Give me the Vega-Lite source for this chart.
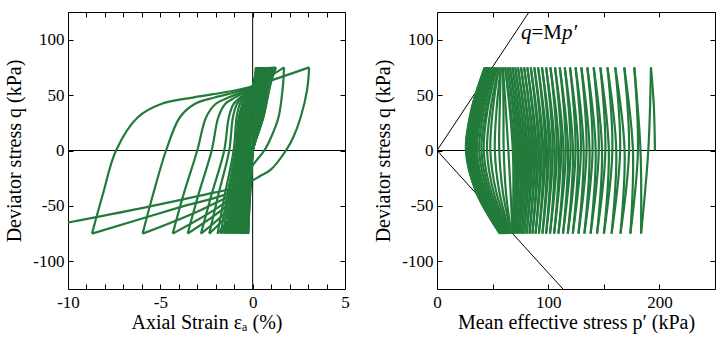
{
"$schema": "https://vega.github.io/schema/vega-lite/v6.json",
"padding": {"left": 4, "top": 8, "right": 6, "bottom": 2},
"spacing": 92,
"bounds": "flush",
"config": {
  "font": "Liberation Serif",
  "view": {"stroke": "black", "strokeWidth": 1},
  "axis": {"grid": false, "domain": false, "tickColor": "black", "tickSize": -5, "tickWidth": 1, "labelFont": "Liberation Serif", "labelFontSize": 17, "labelColor": "black", "titleFont": "Liberation Serif", "titleFontSize": 20, "titleFontWeight": "normal", "titleColor": "black"}
},
"datasets": {
"strain": [
{"s":0,"o":0,"e":0,"q":0},{"s":0,"o":1,"e":0.03,"q":30},{"s":0,"o":2,"e":0.08,"q":55},{"s":0,"o":3,"e":0.18,"q":75},
{"s":1,"o":0,"e":0.18,"q":75},{"s":1,"o":1,"e":0.14,"q":60},{"s":1,"o":2,"e":0.08,"q":30},{"s":1,"o":3,"e":0,"q":0},{"s":1,"o":4,"e":-0.1,"q":-30},{"s":1,"o":5,"e":-0.17,"q":-50},{"s":1,"o":6,"e":-0.24,"q":-75},
{"s":2,"o":0,"e":-0.24,"q":-75},{"s":2,"o":1,"e":-0.19,"q":-40},{"s":2,"o":2,"e":-0.13,"q":0},{"s":2,"o":3,"e":-0.08,"q":30},{"s":2,"o":4,"e":0,"q":55},{"s":2,"o":5,"e":0.22,"q":75},
{"s":3,"o":0,"e":0.22,"q":75},{"s":3,"o":1,"e":0.17,"q":60},{"s":3,"o":2,"e":0.10,"q":30},{"s":3,"o":3,"e":0,"q":0},{"s":3,"o":4,"e":-0.11,"q":-30},{"s":3,"o":5,"e":-0.18,"q":-50},{"s":3,"o":6,"e":-0.26,"q":-75},
{"s":4,"o":0,"e":-0.26,"q":-75},{"s":4,"o":1,"e":-0.21,"q":-40},{"s":4,"o":2,"e":-0.14,"q":0},{"s":4,"o":3,"e":-0.08,"q":30},{"s":4,"o":4,"e":0,"q":55},{"s":4,"o":5,"e":0.26,"q":75},
{"s":5,"o":0,"e":0.26,"q":75},{"s":5,"o":1,"e":0.20,"q":60},{"s":5,"o":2,"e":0.12,"q":30},{"s":5,"o":3,"e":0,"q":0},{"s":5,"o":4,"e":-0.12,"q":-30},{"s":5,"o":5,"e":-0.2,"q":-50},{"s":5,"o":6,"e":-0.28,"q":-75},
{"s":6,"o":0,"e":-0.28,"q":-75},{"s":6,"o":1,"e":-0.22,"q":-40},{"s":6,"o":2,"e":-0.15,"q":0},{"s":6,"o":3,"e":-0.09,"q":30},{"s":6,"o":4,"e":0,"q":55},{"s":6,"o":5,"e":0.30,"q":75},
{"s":7,"o":0,"e":0.30,"q":75},{"s":7,"o":1,"e":0.23,"q":60},{"s":7,"o":2,"e":0.14,"q":30},{"s":7,"o":3,"e":0,"q":0},{"s":7,"o":4,"e":-0.12,"q":-30},{"s":7,"o":5,"e":-0.21,"q":-50},{"s":7,"o":6,"e":-0.30,"q":-75},
{"s":8,"o":0,"e":-0.30,"q":-75},{"s":8,"o":1,"e":-0.24,"q":-40},{"s":8,"o":2,"e":-0.16,"q":0},{"s":8,"o":3,"e":-0.1,"q":30},{"s":8,"o":4,"e":0,"q":55},{"s":8,"o":5,"e":0.34,"q":75},
{"s":9,"o":0,"e":0.34,"q":75},{"s":9,"o":1,"e":0.26,"q":60},{"s":9,"o":2,"e":0.16,"q":30},{"s":9,"o":3,"e":0,"q":0},{"s":9,"o":4,"e":-0.13,"q":-30},{"s":9,"o":5,"e":-0.22,"q":-50},{"s":9,"o":6,"e":-0.33,"q":-75},
{"s":10,"o":0,"e":-0.33,"q":-75},{"s":10,"o":1,"e":-0.26,"q":-40},{"s":10,"o":2,"e":-0.18,"q":0},{"s":10,"o":3,"e":-0.11,"q":30},{"s":10,"o":4,"e":0,"q":55},{"s":10,"o":5,"e":0.39,"q":75},
{"s":11,"o":0,"e":0.39,"q":75},{"s":11,"o":1,"e":0.30,"q":60},{"s":11,"o":2,"e":0.18,"q":30},{"s":11,"o":3,"e":0,"q":0},{"s":11,"o":4,"e":-0.13,"q":-30},{"s":11,"o":5,"e":-0.23,"q":-50},{"s":11,"o":6,"e":-0.36,"q":-75},
{"s":12,"o":0,"e":-0.36,"q":-75},{"s":12,"o":1,"e":-0.28,"q":-40},{"s":12,"o":2,"e":-0.19,"q":0},{"s":12,"o":3,"e":-0.12,"q":30},{"s":12,"o":4,"e":0,"q":55},{"s":12,"o":5,"e":0.44,"q":75},
{"s":13,"o":0,"e":0.44,"q":75},{"s":13,"o":1,"e":0.34,"q":60},{"s":13,"o":2,"e":0.20,"q":30},{"s":13,"o":3,"e":0,"q":0},{"s":13,"o":4,"e":-0.14,"q":-30},{"s":13,"o":5,"e":-0.25,"q":-50},{"s":13,"o":6,"e":-0.40,"q":-75},
{"s":14,"o":0,"e":-0.40,"q":-75},{"s":14,"o":1,"e":-0.32,"q":-40},{"s":14,"o":2,"e":-0.22,"q":0},{"s":14,"o":3,"e":-0.13,"q":30},{"s":14,"o":4,"e":0,"q":55},{"s":14,"o":5,"e":0.49,"q":75},
{"s":15,"o":0,"e":0.49,"q":75},{"s":15,"o":1,"e":0.38,"q":60},{"s":15,"o":2,"e":0.23,"q":30},{"s":15,"o":3,"e":0,"q":0},{"s":15,"o":4,"e":-0.14,"q":-30},{"s":15,"o":5,"e":-0.26,"q":-50},{"s":15,"o":6,"e":-0.45,"q":-75},
{"s":16,"o":0,"e":-0.45,"q":-75},{"s":16,"o":1,"e":-0.36,"q":-40},{"s":16,"o":2,"e":-0.24,"q":0},{"s":16,"o":3,"e":-0.15,"q":30},{"s":16,"o":4,"e":0,"q":55},{"s":16,"o":5,"e":0.54,"q":75},
{"s":17,"o":0,"e":0.54,"q":75},{"s":17,"o":1,"e":0.42,"q":60},{"s":17,"o":2,"e":0.25,"q":30},{"s":17,"o":3,"e":0,"q":0},{"s":17,"o":4,"e":-0.15,"q":-30},{"s":17,"o":5,"e":-0.28,"q":-50},{"s":17,"o":6,"e":-0.50,"q":-75},
{"s":18,"o":0,"e":-0.50,"q":-75},{"s":18,"o":1,"e":-0.4,"q":-40},{"s":18,"o":2,"e":-0.27,"q":0},{"s":18,"o":3,"e":-0.17,"q":30},{"s":18,"o":4,"e":0,"q":55},{"s":18,"o":5,"e":0.59,"q":75},
{"s":19,"o":0,"e":0.59,"q":75},{"s":19,"o":1,"e":0.45,"q":60},{"s":19,"o":2,"e":0.27,"q":30},{"s":19,"o":3,"e":0,"q":0},{"s":19,"o":4,"e":-0.15,"q":-30},{"s":19,"o":5,"e":-0.30,"q":-50},{"s":19,"o":6,"e":-0.56,"q":-75},
{"s":20,"o":0,"e":-0.56,"q":-75},{"s":20,"o":1,"e":-0.44,"q":-40},{"s":20,"o":2,"e":-0.3,"q":0},{"s":20,"o":3,"e":-0.19,"q":30},{"s":20,"o":4,"e":0,"q":55},{"s":20,"o":5,"e":0.64,"q":75},
{"s":21,"o":0,"e":0.64,"q":75},{"s":21,"o":1,"e":0.49,"q":60},{"s":21,"o":2,"e":0.29,"q":30},{"s":21,"o":3,"e":0,"q":0},{"s":21,"o":4,"e":-0.16,"q":-30},{"s":21,"o":5,"e":-0.32,"q":-50},{"s":21,"o":6,"e":-0.62,"q":-75},
{"s":22,"o":0,"e":-0.62,"q":-75},{"s":22,"o":1,"e":-0.49,"q":-40},{"s":22,"o":2,"e":-0.33,"q":0},{"s":22,"o":3,"e":-0.21,"q":30},{"s":22,"o":4,"e":0,"q":55},{"s":22,"o":5,"e":0.69,"q":75},
{"s":23,"o":0,"e":0.69,"q":75},{"s":23,"o":1,"e":0.53,"q":60},{"s":23,"o":2,"e":0.32,"q":30},{"s":23,"o":3,"e":0,"q":0},{"s":23,"o":4,"e":-0.16,"q":-30},{"s":23,"o":5,"e":-0.34,"q":-50},{"s":23,"o":6,"e":-0.69,"q":-75},
{"s":24,"o":0,"e":-0.69,"q":-75},{"s":24,"o":1,"e":-0.55,"q":-40},{"s":24,"o":2,"e":-0.37,"q":0},{"s":24,"o":3,"e":-0.24,"q":30},{"s":24,"o":4,"e":0,"q":55},{"s":24,"o":5,"e":0.74,"q":75},
{"s":25,"o":0,"e":0.74,"q":75},{"s":25,"o":1,"e":0.57,"q":60},{"s":25,"o":2,"e":0.34,"q":30},{"s":25,"o":3,"e":0,"q":0},{"s":25,"o":4,"e":-0.17,"q":-30},{"s":25,"o":5,"e":-0.36,"q":-50},{"s":25,"o":6,"e":-0.77,"q":-75},
{"s":26,"o":0,"e":-0.77,"q":-75},{"s":26,"o":1,"e":-0.61,"q":-40},{"s":26,"o":2,"e":-0.42,"q":0},{"s":26,"o":3,"e":-0.27,"q":30},{"s":26,"o":4,"e":-0.1,"q":48},{"s":26,"o":5,"e":0,"q":56},{"s":26,"o":6,"e":0.79,"q":75},
{"s":27,"o":0,"e":0.79,"q":75},{"s":27,"o":1,"e":0.61,"q":60},{"s":27,"o":2,"e":0.36,"q":30},{"s":27,"o":3,"e":0,"q":0},{"s":27,"o":4,"e":-0.17,"q":-30},{"s":27,"o":5,"e":-0.38,"q":-50},{"s":27,"o":6,"e":-0.85,"q":-75},
{"s":28,"o":0,"e":-0.85,"q":-75},{"s":28,"o":1,"e":-0.67,"q":-40},{"s":28,"o":2,"e":-0.46,"q":0},{"s":28,"o":3,"e":-0.31,"q":30},{"s":28,"o":4,"e":-0.12,"q":48},{"s":28,"o":5,"e":0,"q":56},{"s":28,"o":6,"e":0.84,"q":75},
{"s":29,"o":0,"e":0.84,"q":75},{"s":29,"o":1,"e":0.65,"q":60},{"s":29,"o":2,"e":0.39,"q":30},{"s":29,"o":3,"e":0,"q":0},{"s":29,"o":4,"e":-0.18,"q":-30},{"s":29,"o":5,"e":-0.41,"q":-50},{"s":29,"o":6,"e":-0.94,"q":-75},
{"s":30,"o":0,"e":-0.94,"q":-75},{"s":30,"o":1,"e":-0.75,"q":-40},{"s":30,"o":2,"e":-0.51,"q":0},{"s":30,"o":3,"e":-0.35,"q":30},{"s":30,"o":4,"e":-0.14,"q":48},{"s":30,"o":5,"e":0,"q":56},{"s":30,"o":6,"e":0.89,"q":75},
{"s":31,"o":0,"e":0.89,"q":75},{"s":31,"o":1,"e":0.69,"q":60},{"s":31,"o":2,"e":0.41,"q":30},{"s":31,"o":3,"e":0,"q":0},{"s":31,"o":4,"e":-0.18,"q":-30},{"s":31,"o":5,"e":-0.44,"q":-50},{"s":31,"o":6,"e":-1.03,"q":-75},
{"s":32,"o":0,"e":-1.03,"q":-75},{"s":32,"o":1,"e":-0.82,"q":-40},{"s":32,"o":2,"e":-0.56,"q":0},{"s":32,"o":3,"e":-0.39,"q":30},{"s":32,"o":4,"e":-0.17,"q":48},{"s":32,"o":5,"e":0,"q":56},{"s":32,"o":6,"e":0.94,"q":75},
{"s":33,"o":0,"e":0.94,"q":75},{"s":33,"o":1,"e":0.72,"q":60},{"s":33,"o":2,"e":0.43,"q":30},{"s":33,"o":3,"e":0,"q":0},{"s":33,"o":4,"e":-0.19,"q":-30},{"s":33,"o":5,"e":-0.47,"q":-50},{"s":33,"o":6,"e":-1.13,"q":-75},
{"s":34,"o":0,"e":-1.13,"q":-75},{"s":34,"o":1,"e":-0.9,"q":-40},{"s":34,"o":2,"e":-0.61,"q":0},{"s":34,"o":3,"e":-0.45,"q":30},{"s":34,"o":4,"e":-0.2,"q":48},{"s":34,"o":5,"e":0,"q":57},{"s":34,"o":6,"e":0.99,"q":75},
{"s":35,"o":0,"e":0.99,"q":75},{"s":35,"o":1,"e":0.76,"q":60},{"s":35,"o":2,"e":0.46,"q":30},{"s":35,"o":3,"e":0,"q":0},{"s":35,"o":4,"e":-0.19,"q":-30},{"s":35,"o":5,"e":-0.50,"q":-50},{"s":35,"o":6,"e":-1.23,"q":-75},
{"s":36,"o":0,"e":-1.23,"q":-75},{"s":36,"o":1,"e":-0.97,"q":-40},{"s":36,"o":2,"e":-0.66,"q":0},{"s":36,"o":3,"e":-0.5,"q":30},{"s":36,"o":4,"e":-0.23,"q":48},{"s":36,"o":5,"e":0,"q":57},{"s":36,"o":6,"e":1.04,"q":75},
{"s":37,"o":0,"e":1.04,"q":75},{"s":37,"o":1,"e":0.80,"q":60},{"s":37,"o":2,"e":0.48,"q":30},{"s":37,"o":3,"e":0,"q":0},{"s":37,"o":4,"e":-0.2,"q":-30},{"s":37,"o":5,"e":-0.54,"q":-50},{"s":37,"o":6,"e":-1.34,"q":-75},
{"s":38,"o":0,"e":-1.34,"q":-75},{"s":38,"o":1,"e":-1.06,"q":-40},{"s":38,"o":2,"e":-0.72,"q":0},{"s":38,"o":3,"e":-0.56,"q":30},{"s":38,"o":4,"e":-0.27,"q":48},{"s":38,"o":5,"e":0,"q":57},{"s":38,"o":6,"e":1.08,"q":75},
{"s":39,"o":0,"e":1.08,"q":75},{"s":39,"o":1,"e":0.83,"q":60},{"s":39,"o":2,"e":0.50,"q":30},{"s":39,"o":3,"e":0,"q":0},{"s":39,"o":4,"e":-0.2,"q":-30},{"s":39,"o":5,"e":-0.58,"q":-50},{"s":39,"o":6,"e":-1.46,"q":-75},
{"s":40,"o":0,"e":-1.46,"q":-75},{"s":40,"o":1,"e":-1.16,"q":-40},{"s":40,"o":2,"e":-0.79,"q":0},{"s":40,"o":3,"e":-0.63,"q":30},{"s":40,"o":4,"e":-0.3,"q":48},{"s":40,"o":5,"e":0,"q":57},{"s":40,"o":6,"e":1.12,"q":75},
{"s":41,"o":0,"e":1.12,"q":75},{"s":41,"o":1,"e":0.86,"q":60},{"s":41,"o":2,"e":0.52,"q":30},{"s":41,"o":3,"e":0,"q":0},{"s":41,"o":4,"e":-0.21,"q":-30},{"s":41,"o":5,"e":-0.63,"q":-50},{"s":41,"o":6,"e":-1.59,"q":-75},
{"s":42,"o":0,"e":-1.59,"q":-75},{"s":42,"o":1,"e":-1.26,"q":-40},{"s":42,"o":2,"e":-0.86,"q":0},{"s":42,"o":3,"e":-0.69,"q":30},{"s":42,"o":4,"e":-0.34,"q":48},{"s":42,"o":5,"e":0,"q":57},{"s":42,"o":6,"e":1.16,"q":75},
{"s":43,"o":0,"e":1.16,"q":75},{"s":43,"o":1,"e":0.89,"q":60},{"s":43,"o":2,"e":0.53,"q":30},{"s":43,"o":3,"e":0,"q":0},{"s":43,"o":4,"e":-0.21,"q":-30},{"s":43,"o":5,"e":-0.68,"q":-50},{"s":43,"o":6,"e":-1.73,"q":-75},
{"s":44,"o":0,"e":-1.73,"q":-75},{"s":44,"o":1,"e":-1.37,"q":-40},{"s":44,"o":2,"e":-0.93,"q":0},{"s":44,"o":3,"e":-0.75,"q":30},{"s":44,"o":4,"e":-0.4,"q":48},{"s":44,"o":5,"e":0,"q":57},{"s":44,"o":6,"e":1.2,"q":75},
{"s":45,"o":0,"e":1.2,"q":75},{"s":45,"o":1,"e":0.92,"q":60},{"s":45,"o":2,"e":0.55,"q":30},{"s":45,"o":3,"e":0,"q":0},{"s":45,"o":4,"e":-0.22,"q":-30},{"s":45,"o":5,"e":-0.74,"q":-50},{"s":45,"o":6,"e":-1.9,"q":-75},
{"s":46,"o":0,"e":-1.9,"q":-75},{"s":46,"o":1,"e":-1.51,"q":-40},{"s":46,"o":2,"e":-1.03,"q":0},{"s":46,"o":3,"e":-0.87,"q":30},{"s":46,"o":4,"e":-0.69,"q":42},{"s":46,"o":5,"e":-0.44,"q":48},{"s":46,"o":6,"e":-0.16,"q":53.5},{"s":46,"o":7,"e":0,"q":58},{"s":46,"o":8,"e":1.24,"q":75},
{"s":47,"o":0,"e":1.24,"q":75},{"s":47,"o":1,"e":0.95,"q":60},{"s":47,"o":2,"e":0.57,"q":30},{"s":47,"o":3,"e":0,"q":0},{"s":47,"o":4,"e":-0.23,"q":-30},{"s":47,"o":5,"e":-0.9,"q":-50},{"s":47,"o":6,"e":-2.35,"q":-75},
{"s":48,"o":0,"e":-2.35,"q":-75},{"s":48,"o":1,"e":-1.86,"q":-40},{"s":48,"o":2,"e":-1.27,"q":0},{"s":48,"o":3,"e":-1.07,"q":30},{"s":48,"o":4,"e":-0.85,"q":42},{"s":48,"o":5,"e":-0.55,"q":48},{"s":48,"o":6,"e":-0.2,"q":53.5},{"s":48,"o":7,"e":0,"q":58},{"s":48,"o":8,"e":1.26,"q":75},
{"s":49,"o":0,"e":1.26,"q":75},{"s":49,"o":1,"e":0.97,"q":60},{"s":49,"o":2,"e":0.58,"q":30},{"s":49,"o":3,"e":0,"q":0},{"s":49,"o":4,"e":-0.25,"q":-30},{"s":49,"o":5,"e":-1.1,"q":-50},{"s":49,"o":6,"e":-2.8,"q":-75},
{"s":50,"o":0,"e":-2.8,"q":-75},{"s":50,"o":1,"e":-2.23,"q":-40},{"s":50,"o":2,"e":-1.54,"q":0},{"s":50,"o":3,"e":-1.29,"q":30},{"s":50,"o":4,"e":-1.03,"q":42},{"s":50,"o":5,"e":-0.66,"q":48},{"s":50,"o":6,"e":-0.25,"q":53.5},{"s":50,"o":7,"e":0,"q":58},{"s":50,"o":8,"e":1.2,"q":75},
{"s":51,"o":0,"e":1.2,"q":75},{"s":51,"o":1,"e":0.92,"q":60},{"s":51,"o":2,"e":0.55,"q":30},{"s":51,"o":3,"e":0,"q":0},{"s":51,"o":4,"e":-0.28,"q":-30},{"s":51,"o":5,"e":-1.4,"q":-50},{"s":51,"o":6,"e":-3.52,"q":-75},
{"s":52,"o":0,"e":-3.52,"q":-75},{"s":52,"o":1,"e":-2.94,"q":-40},{"s":52,"o":2,"e":-2.22,"q":0},{"s":52,"o":3,"e":-1.86,"q":30},{"s":52,"o":4,"e":-1.49,"q":42},{"s":52,"o":5,"e":-0.95,"q":48},{"s":52,"o":6,"e":-0.36,"q":53.5},{"s":52,"o":7,"e":0,"q":58},{"s":52,"o":8,"e":1.15,"q":75},
{"s":53,"o":0,"e":1.15,"q":75},{"s":53,"o":1,"e":0.89,"q":60},{"s":53,"o":2,"e":0.53,"q":30},{"s":53,"o":3,"e":0,"q":0},{"s":53,"o":4,"e":-0.32,"q":-30},{"s":53,"o":5,"e":-1.75,"q":-50},{"s":53,"o":6,"e":-4.33,"q":-75},
{"s":54,"o":0,"e":-4.33,"q":-75},{"s":54,"o":1,"e":-3.75,"q":-40},{"s":54,"o":2,"e":-3.0,"q":0},{"s":54,"o":3,"e":-2.52,"q":30},{"s":54,"o":4,"e":-2.01,"q":42},{"s":54,"o":5,"e":-1.29,"q":48},{"s":54,"o":6,"e":-0.48,"q":53.5},{"s":54,"o":7,"e":0,"q":58},{"s":54,"o":8,"e":1.22,"q":75},
{"s":55,"o":0,"e":1.22,"q":75},{"s":55,"o":1,"e":0.94,"q":60},{"s":55,"o":2,"e":0.56,"q":30},{"s":55,"o":3,"e":0,"q":0},{"s":55,"o":4,"e":-0.4,"q":-30},{"s":55,"o":5,"e":-2.35,"q":-50},{"s":55,"o":6,"e":-5.96,"q":-75},
{"s":56,"o":0,"e":-5.96,"q":-75},{"s":56,"o":1,"e":-5.4,"q":-40},{"s":56,"o":2,"e":-4.69,"q":0},{"s":56,"o":3,"e":-3.94,"q":30},{"s":56,"o":4,"e":-3.14,"q":42},{"s":56,"o":5,"e":-2.02,"q":48},{"s":56,"o":6,"e":-0.75,"q":53.5},{"s":56,"o":7,"e":0,"q":58},{"s":56,"o":8,"e":1.7,"q":75},
{"s":57,"o":0,"e":1.7,"q":75},{"s":57,"o":1,"e":1.62,"q":55},{"s":57,"o":2,"e":1.4,"q":30},{"s":57,"o":3,"e":1.0,"q":12},{"s":57,"o":4,"e":0.63,"q":0},{"s":57,"o":5,"e":0.25,"q":-8},{"s":57,"o":6,"e":0,"q":-13.5},{"s":57,"o":7,"e":-0.5,"q":-25},{"s":57,"o":8,"e":-1.2,"q":-37.5},{"s":57,"o":9,"e":-3.7,"q":-50},{"s":57,"o":10,"e":-8.7,"q":-75},
{"s":58,"o":0,"e":-8.7,"q":-75},{"s":58,"o":1,"e":-8.12,"q":-40},{"s":58,"o":2,"e":-7.4,"q":0},{"s":58,"o":3,"e":-6.22,"q":30},{"s":58,"o":4,"e":-4.96,"q":42},{"s":58,"o":5,"e":-3.18,"q":48},{"s":58,"o":6,"e":-1.18,"q":53.5},{"s":58,"o":7,"e":0,"q":58},{"s":58,"o":8,"e":3.06,"q":75},
{"s":59,"o":0,"e":3.06,"q":75},{"s":59,"o":1,"e":2.95,"q":55},{"s":59,"o":2,"e":2.6,"q":30},{"s":59,"o":3,"e":2.2,"q":12},{"s":59,"o":4,"e":1.8,"q":0},{"s":59,"o":5,"e":1.0,"q":-17},{"s":59,"o":6,"e":0.4,"q":-23},{"s":59,"o":7,"e":0,"q":-27},{"s":59,"o":8,"e":-1,"q":-34},{"s":59,"o":9,"e":-2.1,"q":-38},{"s":59,"o":10,"e":-6,"q":-52},{"s":59,"o":11,"e":-10,"q":-65}
],
"path": [
{"s":0,"o":0,"p":196,"q":0},{"s":0,"o":1,"p":195,"q":40},{"s":0,"o":2,"p":192.4,"q":75},
{"s":1,"o":0,"p":192.4,"q":75},{"s":1,"o":1,"p":190.0,"q":0},{"s":1,"o":2,"p":183.5,"q":-75},
{"s":2,"o":0,"p":183.5,"q":-75},{"s":2,"o":1,"p":183.0,"q":0},{"s":2,"o":2,"p":177.4,"q":75},
{"s":3,"o":0,"p":177.4,"q":75},{"s":3,"o":1,"p":180.7,"q":0},{"s":3,"o":2,"p":173.9,"q":-75},
{"s":4,"o":0,"p":173.9,"q":-75},{"s":4,"o":1,"p":176.2,"q":0},{"s":4,"o":2,"p":168.4,"q":75},
{"s":5,"o":0,"p":168.4,"q":75},{"s":5,"o":1,"p":172.7,"q":0},{"s":5,"o":2,"p":165.0,"q":-75},
{"s":6,"o":0,"p":165.0,"q":-75},{"s":6,"o":1,"p":168.7,"q":0},{"s":6,"o":2,"p":160.3,"q":75},
{"s":7,"o":0,"p":160.3,"q":75},{"s":7,"o":1,"p":164.7,"q":0},{"s":7,"o":2,"p":157.0,"q":-75},
{"s":8,"o":0,"p":157.0,"q":-75},{"s":8,"o":1,"p":161.2,"q":0},{"s":8,"o":2,"p":153.3,"q":75},
{"s":9,"o":0,"p":153.3,"q":75},{"s":9,"o":1,"p":157.7,"q":0},{"s":9,"o":2,"p":150.1,"q":-75},
{"s":10,"o":0,"p":150.1,"q":-75},{"s":10,"o":1,"p":154.5,"q":0},{"s":10,"o":2,"p":146.9,"q":75},
{"s":11,"o":0,"p":146.9,"q":75},{"s":11,"o":1,"p":151.4,"q":0},{"s":11,"o":2,"p":143.9,"q":-75},
{"s":12,"o":0,"p":143.9,"q":-75},{"s":12,"o":1,"p":148.4,"q":0},{"s":12,"o":2,"p":140.9,"q":75},
{"s":13,"o":0,"p":140.9,"q":75},{"s":13,"o":1,"p":145.5,"q":0},{"s":13,"o":2,"p":138.1,"q":-75},
{"s":14,"o":0,"p":138.1,"q":-75},{"s":14,"o":1,"p":142.7,"q":0},{"s":14,"o":2,"p":135.2,"q":75},
{"s":15,"o":0,"p":135.2,"q":75},{"s":15,"o":1,"p":139.9,"q":0},{"s":15,"o":2,"p":132.5,"q":-75},
{"s":16,"o":0,"p":132.5,"q":-75},{"s":16,"o":1,"p":137.2,"q":0},{"s":16,"o":2,"p":129.8,"q":75},
{"s":17,"o":0,"p":129.8,"q":75},{"s":17,"o":1,"p":134.5,"q":0},{"s":17,"o":2,"p":127.2,"q":-75},
{"s":18,"o":0,"p":127.2,"q":-75},{"s":18,"o":1,"p":131.9,"q":0},{"s":18,"o":2,"p":124.6,"q":75},
{"s":19,"o":0,"p":124.6,"q":75},{"s":19,"o":1,"p":129.4,"q":0},{"s":19,"o":2,"p":122.1,"q":-75},
{"s":20,"o":0,"p":122.1,"q":-75},{"s":20,"o":1,"p":126.9,"q":0},{"s":20,"o":2,"p":119.6,"q":75},
{"s":21,"o":0,"p":119.6,"q":75},{"s":21,"o":1,"p":124.6,"q":0},{"s":21,"o":2,"p":117.6,"q":-75},
{"s":22,"o":0,"p":117.6,"q":-75},{"s":22,"o":1,"p":122.3,"q":0},{"s":22,"o":2,"p":114.9,"q":75},
{"s":23,"o":0,"p":114.9,"q":75},{"s":23,"o":1,"p":120.1,"q":0},{"s":23,"o":2,"p":113.3,"q":-75},
{"s":24,"o":0,"p":113.3,"q":-75},{"s":24,"o":1,"p":117.9,"q":0},{"s":24,"o":2,"p":110.4,"q":75},
{"s":25,"o":0,"p":110.4,"q":75},{"s":25,"o":1,"p":115.8,"q":0},{"s":25,"o":2,"p":109.2,"q":-75},
{"s":26,"o":0,"p":109.2,"q":-75},{"s":26,"o":1,"p":113.7,"q":0},{"s":26,"o":2,"p":106.1,"q":75},
{"s":27,"o":0,"p":106.1,"q":75},{"s":27,"o":1,"p":111.7,"q":0},{"s":27,"o":2,"p":105.3,"q":-75},
{"s":28,"o":0,"p":105.3,"q":-75},{"s":28,"o":1,"p":109.7,"q":0},{"s":28,"o":2,"p":102.0,"q":75},
{"s":29,"o":0,"p":102.0,"q":75},{"s":29,"o":1,"p":107.8,"q":0},{"s":29,"o":2,"p":101.6,"q":-75},
{"s":30,"o":0,"p":101.6,"q":-75},{"s":30,"o":1,"p":105.9,"q":0},{"s":30,"o":2,"p":98.1,"q":75},
{"s":31,"o":0,"p":98.1,"q":75},{"s":31,"o":1,"p":104.1,"q":0},{"s":31,"o":2,"p":98.1,"q":-75},
{"s":32,"o":0,"p":98.1,"q":-75},{"s":32,"o":1,"p":102.3,"q":0},{"s":32,"o":2,"p":94.4,"q":75},
{"s":33,"o":0,"p":94.4,"q":75},{"s":33,"o":1,"p":100.6,"q":0},{"s":33,"o":2,"p":94.8,"q":-75},
{"s":34,"o":0,"p":94.8,"q":-75},{"s":34,"o":1,"p":98.9,"q":0},{"s":34,"o":2,"p":90.9,"q":75},
{"s":35,"o":0,"p":90.9,"q":75},{"s":35,"o":1,"p":97.3,"q":0},{"s":35,"o":2,"p":91.6,"q":-75},
{"s":36,"o":0,"p":91.6,"q":-75},{"s":36,"o":1,"p":95.6,"q":0},{"s":36,"o":2,"p":87.5,"q":75},
{"s":37,"o":0,"p":87.5,"q":75},{"s":37,"o":1,"p":94.1,"q":0},{"s":37,"o":2,"p":88.6,"q":-75},
{"s":38,"o":0,"p":88.6,"q":-75},{"s":38,"o":1,"p":92.5,"q":0},{"s":38,"o":2,"p":84.3,"q":75},
{"s":39,"o":0,"p":84.3,"q":75},{"s":39,"o":1,"p":91.1,"q":0},{"s":39,"o":2,"p":85.8,"q":-75},
{"s":40,"o":0,"p":85.8,"q":-75},{"s":40,"o":1,"p":89.5,"q":0},{"s":40,"o":2,"p":81.2,"q":75},
{"s":41,"o":0,"p":81.2,"q":75},{"s":41,"o":1,"p":88.2,"q":0},{"s":41,"o":2,"p":83.2,"q":-75},
{"s":42,"o":0,"p":83.2,"q":-75},{"s":42,"o":1,"p":86.8,"q":0},{"s":42,"o":2,"p":78.3,"q":75},
{"s":43,"o":0,"p":78.3,"q":75},{"s":43,"o":1,"p":85.5,"q":0},{"s":43,"o":2,"p":80.7,"q":-75},
{"s":44,"o":0,"p":80.7,"q":-75},{"s":44,"o":1,"p":84.1,"q":0},{"s":44,"o":2,"p":75.5,"q":75},
{"s":45,"o":0,"p":75.5,"q":75},{"s":45,"o":1,"p":83.0,"q":0},{"s":45,"o":2,"p":78.4,"q":-75},
{"s":46,"o":0,"p":78.4,"q":-75},{"s":46,"o":1,"p":81.6,"q":0},{"s":46,"o":2,"p":72.8,"q":75},
{"s":47,"o":0,"p":72.8,"q":75},{"s":47,"o":1,"p":80.6,"q":0},{"s":47,"o":2,"p":76.3,"q":-75},
{"s":48,"o":0,"p":76.3,"q":-75},{"s":48,"o":1,"p":79.3,"q":0},{"s":48,"o":2,"p":70.3,"q":75},
{"s":49,"o":0,"p":70.3,"q":75},{"s":49,"o":1,"p":78.3,"q":0},{"s":49,"o":2,"p":74.3,"q":-75},
{"s":50,"o":0,"p":74.3,"q":-75},{"s":50,"o":1,"p":77.1,"q":0},{"s":50,"o":2,"p":67.9,"q":75},
{"s":51,"o":0,"p":67.9,"q":75},{"s":51,"o":1,"p":76.2,"q":0},{"s":51,"o":2,"p":72.5,"q":-75},
{"s":52,"o":0,"p":72.5,"q":-75},{"s":52,"o":1,"p":75.1,"q":0},{"s":52,"o":2,"p":65.6,"q":75},
{"s":53,"o":0,"p":65.6,"q":75},{"s":53,"o":1,"p":73.7,"q":0},{"s":53,"o":2,"p":70.7,"q":-75},
{"s":54,"o":0,"p":70.7,"q":-75},{"s":54,"o":1,"p":72.6,"q":0},{"s":54,"o":2,"p":63.4,"q":75},
{"s":55,"o":0,"p":63.4,"q":75},{"s":55,"o":1,"p":71.3,"q":0},{"s":55,"o":2,"p":69.2,"q":-75},
{"s":56,"o":0,"p":69.2,"q":-75},{"s":56,"o":1,"p":69.8,"q":0},{"s":56,"o":2,"p":61.3,"q":75},
{"s":57,"o":0,"p":61.3,"q":75},{"s":57,"o":1,"p":68.2,"q":0},{"s":57,"o":2,"p":68.0,"q":-75},
{"s":58,"o":0,"p":68.0,"q":-75},{"s":58,"o":1,"p":64.2,"q":0},{"s":58,"o":2,"p":59.3,"q":75},
{"s":59,"o":0,"p":59.3,"q":75},{"s":59,"o":1,"p":59.8,"q":37.5},{"s":59,"o":2,"p":60,"q":0},{"s":59,"o":3,"p":62.0,"q":-37.5},{"s":59,"o":4,"p":66.8,"q":-75},
{"s":60,"o":0,"p":66.8,"q":-75},{"s":60,"o":1,"p":59.2,"q":-37.5},{"s":60,"o":2,"p":56,"q":0},{"s":60,"o":3,"p":56.4,"q":37.5},{"s":60,"o":4,"p":57.4,"q":75},
{"s":61,"o":0,"p":57.4,"q":75},{"s":61,"o":1,"p":53.6,"q":37.5},{"s":61,"o":2,"p":52,"q":0},{"s":61,"o":3,"p":56.1,"q":-37.5},{"s":61,"o":4,"p":65.6,"q":-75},
{"s":62,"o":0,"p":65.6,"q":-75},{"s":62,"o":1,"p":53.3,"q":-37.5},{"s":62,"o":2,"p":48,"q":0},{"s":62,"o":3,"p":50.3,"q":37.5},{"s":62,"o":4,"p":55.6,"q":75},
{"s":63,"o":0,"p":55.6,"q":75},{"s":63,"o":1,"p":48.2,"q":37.5},{"s":63,"o":2,"p":45,"q":0},{"s":63,"o":3,"p":50.9,"q":-37.5},{"s":63,"o":4,"p":64.5,"q":-75},
{"s":64,"o":0,"p":64.5,"q":-75},{"s":64,"o":1,"p":48.8,"q":-37.5},{"s":64,"o":2,"p":42,"q":0},{"s":64,"o":3,"p":45.6,"q":37.5},{"s":64,"o":4,"p":53.9,"q":75},
{"s":65,"o":0,"p":53.9,"q":75},{"s":65,"o":1,"p":44.2,"q":37.5},{"s":65,"o":2,"p":40,"q":0},{"s":65,"o":3,"p":47.1,"q":-37.5},{"s":65,"o":4,"p":63.5,"q":-75},
{"s":66,"o":0,"p":63.5,"q":-75},{"s":66,"o":1,"p":45.7,"q":-37.5},{"s":66,"o":2,"p":38,"q":0},{"s":66,"o":3,"p":42.3,"q":37.5},{"s":66,"o":4,"p":52.3,"q":75},
{"s":67,"o":0,"p":52.3,"q":75},{"s":67,"o":1,"p":40.9,"q":37.5},{"s":67,"o":2,"p":36,"q":0},{"s":67,"o":3,"p":44.0,"q":-37.5},{"s":67,"o":4,"p":62.5,"q":-75},
{"s":68,"o":0,"p":62.5,"q":-75},{"s":68,"o":1,"p":42.9,"q":-37.5},{"s":68,"o":2,"p":34.5,"q":0},{"s":68,"o":3,"p":39.4,"q":37.5},{"s":68,"o":4,"p":50.8,"q":75},
{"s":69,"o":0,"p":50.8,"q":75},{"s":69,"o":1,"p":38.7,"q":37.5},{"s":69,"o":2,"p":33.5,"q":0},{"s":69,"o":3,"p":41.9,"q":-37.5},{"s":69,"o":4,"p":61.6,"q":-75},
{"s":70,"o":0,"p":61.6,"q":-75},{"s":70,"o":1,"p":41.2,"q":-37.5},{"s":70,"o":2,"p":32.5,"q":0},{"s":70,"o":3,"p":37.6,"q":37.5},{"s":70,"o":4,"p":49.4,"q":75},
{"s":71,"o":0,"p":49.4,"q":75},{"s":71,"o":1,"p":36.9,"q":37.5},{"s":71,"o":2,"p":31.5,"q":0},{"s":71,"o":3,"p":40.3,"q":-37.5},{"s":71,"o":4,"p":60.7,"q":-75},
{"s":72,"o":0,"p":60.7,"q":-75},{"s":72,"o":1,"p":39.6,"q":-37.5},{"s":72,"o":2,"p":30.5,"q":0},{"s":72,"o":3,"p":35.8,"q":37.5},{"s":72,"o":4,"p":48.1,"q":75},
{"s":73,"o":0,"p":48.1,"q":75},{"s":73,"o":1,"p":35.4,"q":37.5},{"s":73,"o":2,"p":30,"q":0},{"s":73,"o":3,"p":39.0,"q":-37.5},{"s":73,"o":4,"p":59.9,"q":-75},
{"s":74,"o":0,"p":59.9,"q":-75},{"s":74,"o":1,"p":38.5,"q":-37.5},{"s":74,"o":2,"p":29.3,"q":0},{"s":74,"o":3,"p":34.6,"q":37.5},{"s":74,"o":4,"p":46.9,"q":75},
{"s":75,"o":0,"p":46.9,"q":75},{"s":75,"o":1,"p":34.2,"q":37.5},{"s":75,"o":2,"p":28.8,"q":0},{"s":75,"o":3,"p":37.9,"q":-37.5},{"s":75,"o":4,"p":59.1,"q":-75},
{"s":76,"o":0,"p":59.1,"q":-75},{"s":76,"o":1,"p":37.5,"q":-37.5},{"s":76,"o":2,"p":28.2,"q":0},{"s":76,"o":3,"p":33.5,"q":37.5},{"s":76,"o":4,"p":45.8,"q":75},
{"s":77,"o":0,"p":45.8,"q":75},{"s":77,"o":1,"p":33.2,"q":37.5},{"s":77,"o":2,"p":27.8,"q":0},{"s":77,"o":3,"p":37.0,"q":-37.5},{"s":77,"o":4,"p":58.3,"q":-75},
{"s":78,"o":0,"p":58.3,"q":-75},{"s":78,"o":1,"p":36.7,"q":-37.5},{"s":78,"o":2,"p":27.4,"q":0},{"s":78,"o":3,"p":32.6,"q":37.5},{"s":78,"o":4,"p":44.8,"q":75},
{"s":79,"o":0,"p":44.8,"q":75},{"s":79,"o":1,"p":32.4,"q":37.5},{"s":79,"o":2,"p":27.1,"q":0},{"s":79,"o":3,"p":36.3,"q":-37.5},{"s":79,"o":4,"p":57.6,"q":-75},
{"s":80,"o":0,"p":57.6,"q":-75},{"s":80,"o":1,"p":36.0,"q":-37.5},{"s":80,"o":2,"p":26.8,"q":0},{"s":80,"o":3,"p":31.9,"q":37.5},{"s":80,"o":4,"p":43.8,"q":75},
{"s":81,"o":0,"p":43.8,"q":75},{"s":81,"o":1,"p":31.7,"q":37.5},{"s":81,"o":2,"p":26.5,"q":0},{"s":81,"o":3,"p":35.7,"q":-37.5},{"s":81,"o":4,"p":57,"q":-75},
{"s":82,"o":0,"p":57,"q":-75},{"s":82,"o":1,"p":35.5,"q":-37.5},{"s":82,"o":2,"p":26.3,"q":0},{"s":82,"o":3,"p":31.3,"q":37.5},{"s":82,"o":4,"p":43,"q":75},
{"s":83,"o":0,"p":43,"q":75},{"s":83,"o":1,"p":31.1,"q":37.5},{"s":83,"o":2,"p":26,"q":0},{"s":83,"o":3,"p":35.2,"q":-37.5},{"s":83,"o":4,"p":56.5,"q":-75}
],
"zero": [{"v": 0}],
"cornersL": [{"e": -10, "q": -125}, {"e": 5, "q": 125}],
"cornersR": [{"p": 0, "q": -125}, {"p": 250, "q": 125}],
"mline": [{"l":1,"o":0,"p":0,"q":0},{"l":1,"o":1,"p":82.8,"q":125},{"l":2,"o":0,"p":0,"q":0},{"l":2,"o":1,"p":113.3,"q":-125}],
"lbl": [{"p": 75.5, "q": 101}]
},
"hconcat": [
{
  "width": 277, "height": 277,
  "layer": [
    {"data": {"name": "zero"}, "mark": {"type": "rule", "color": "black", "strokeWidth": 1},
     "encoding": {"y": {"field": "v", "type": "quantitative", "scale": {"domain": [-125, 125], "nice": false, "zero": false}, "axis": null}}},
    {"data": {"name": "zero"}, "mark": {"type": "rule", "color": "black", "strokeWidth": 1},
     "encoding": {"x": {"field": "v", "type": "quantitative", "scale": {"domain": [-10, 5], "nice": false, "zero": false}, "axis": null}}},
    {"data": {"name": "strain"}, "mark": {"type": "line", "color": "#227a3b", "strokeWidth": 2.2, "interpolate": "catmull-rom", "clip": true},
     "encoding": {
       "x": {"field": "e", "type": "quantitative", "scale": {"domain": [-10, 5], "nice": false, "zero": false},
             "axis": {"orient": "bottom", "title": "Axial Strain  εₐ (%)", "values": [-10,-9,-8,-7,-6,-5,-4,-3,-2,-1,0,1,2,3,4,5], "labelExpr": "datum.value % 5 === 0 ? '' + datum.value : ''", "labelPadding": 10, "titlePadding": 2, "labelFlush": false}},
       "y": {"field": "q", "type": "quantitative", "scale": {"domain": [-125, 125], "nice": false, "zero": false},
             "axis": {"orient": "left", "title": "Deviator stress q (kPa)", "values": [-100, -50, 0, 50, 100], "labelExpr": "'' + datum.value", "labelPadding": 9, "titlePadding": 8}},
       "detail": {"field": "s", "type": "nominal"},
       "order": {"field": "o", "type": "quantitative"}
     }},
    {"data": {"name": "cornersL"}, "mark": {"type": "point", "opacity": 0},
     "encoding": {
       "x": {"field": "e", "type": "quantitative", "scale": {"domain": [-10, 5], "nice": false, "zero": false},
             "axis": {"orient": "top", "title": null, "labels": false, "values": [-10,-9,-8,-7,-6,-5,-4,-3,-2,-1,0,1,2,3,4,5]}},
       "y": {"field": "q", "type": "quantitative", "scale": {"domain": [-125, 125], "nice": false, "zero": false},
             "axis": {"orient": "right", "title": null, "labels": false, "values": [-100, -50, 0, 50, 100]}}
     }}
  ],
  "resolve": {"axis": {"x": "independent", "y": "independent"}}
},
{
  "width": 278, "height": 277,
  "layer": [
    {"data": {"name": "zero"}, "mark": {"type": "rule", "color": "black", "strokeWidth": 1},
     "encoding": {"y": {"field": "v", "type": "quantitative", "scale": {"domain": [-125, 125], "nice": false, "zero": false}, "axis": null}}},
    {"data": {"name": "mline"}, "mark": {"type": "line", "color": "black", "strokeWidth": 1, "clip": true},
     "encoding": {
       "x": {"field": "p", "type": "quantitative", "scale": {"domain": [0, 250], "nice": false, "zero": false}, "axis": null},
       "y": {"field": "q", "type": "quantitative", "scale": {"domain": [-125, 125], "nice": false, "zero": false}, "axis": null},
       "detail": {"field": "l", "type": "nominal"},
       "order": {"field": "o", "type": "quantitative"}
     }},
    {"data": {"name": "path"}, "mark": {"type": "line", "color": "#227a3b", "strokeWidth": 2.2, "interpolate": "catmull-rom", "clip": true},
     "encoding": {
       "x": {"field": "p", "type": "quantitative", "scale": {"domain": [0, 250], "nice": false, "zero": false},
             "axis": {"orient": "bottom", "title": "Mean effective stress p′ (kPa)", "values": [0, 50, 100, 150, 200, 250], "labelExpr": "datum.value % 100 === 0 ? '' + datum.value : ''", "labelPadding": 10, "titlePadding": 2, "labelFlush": false}},
       "y": {"field": "q", "type": "quantitative", "scale": {"domain": [-125, 125], "nice": false, "zero": false},
             "axis": {"orient": "left", "title": "Deviator stress q (kPa)", "values": [-100, -50, 0, 50, 100], "labelExpr": "'' + datum.value", "labelPadding": 9, "titlePadding": 8}},
       "detail": {"field": "s", "type": "nominal"},
       "order": {"field": "o", "type": "quantitative"}
     }},
    {"data": {"name": "lbl"}, "mark": {"type": "text", "text": "q", "fontStyle": "italic", "fontSize": 21, "align": "left", "baseline": "alphabetic", "color": "black", "font": "Liberation Serif"},
     "encoding": {"x": {"field": "p", "type": "quantitative", "axis": null}, "y": {"field": "q", "type": "quantitative", "axis": null}}},
    {"data": {"name": "lbl"}, "mark": {"type": "text", "text": "=M", "fontSize": 21, "align": "left", "baseline": "alphabetic", "dx": 10.5, "color": "black", "font": "Liberation Serif"},
     "encoding": {"x": {"field": "p", "type": "quantitative", "axis": null}, "y": {"field": "q", "type": "quantitative", "axis": null}}},
    {"data": {"name": "lbl"}, "mark": {"type": "text", "text": "p′", "fontStyle": "italic", "fontSize": 21, "align": "left", "baseline": "alphabetic", "dx": 41, "color": "black", "font": "Liberation Serif"},
     "encoding": {"x": {"field": "p", "type": "quantitative", "axis": null}, "y": {"field": "q", "type": "quantitative", "axis": null}}},
    {"data": {"name": "cornersR"}, "mark": {"type": "point", "opacity": 0},
     "encoding": {
       "x": {"field": "p", "type": "quantitative", "scale": {"domain": [0, 250], "nice": false, "zero": false},
             "axis": {"orient": "top", "title": null, "labels": false, "values": [0, 50, 100, 150, 200, 250]}},
       "y": {"field": "q", "type": "quantitative", "scale": {"domain": [-125, 125], "nice": false, "zero": false},
             "axis": {"orient": "right", "title": null, "labels": false, "values": [-100, -50, 0, 50, 100]}}
     }}
  ],
  "resolve": {"axis": {"x": "independent", "y": "independent"}}
}
]
}
